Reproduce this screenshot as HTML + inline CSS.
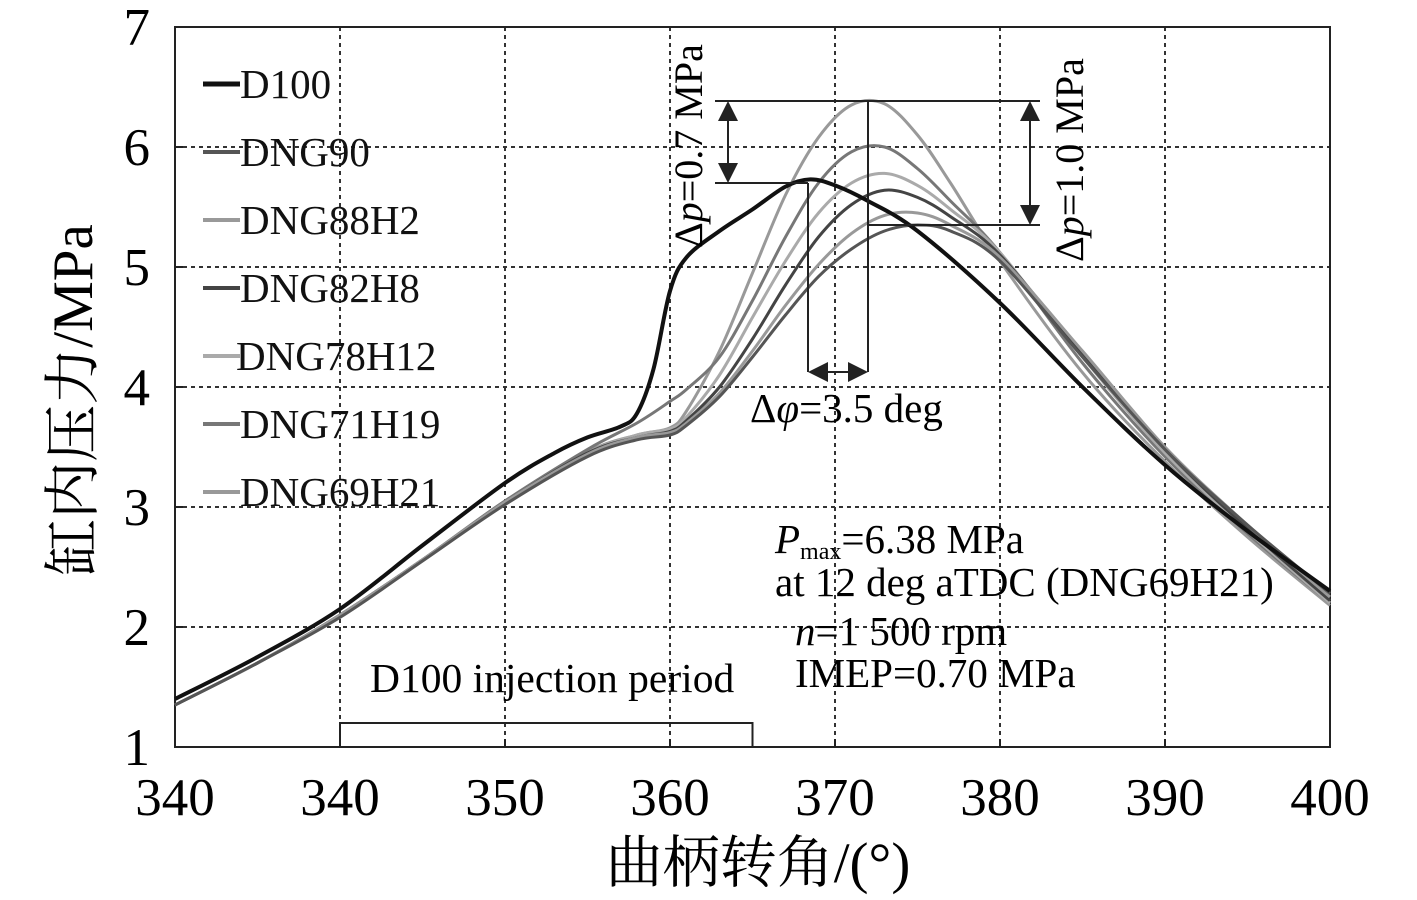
<!DOCTYPE html>
<html><head><meta charset="utf-8"><style>
html,body{margin:0;padding:0;background:#fff}
svg{display:block;font-family:"Liberation Serif","Noto Serif CJK SC",serif}
</style></head><body>
<svg id="c" width="1417" height="900" viewBox="0 0 1417 900"></svg>
<script>
const xTickValues=[330,340,350,360,370,380,390,400];
const xTickLabels=["340","340","350","360","370","380","390","400"];
const yTickValues=[1,2,3,4,5,6,7];
const seriesNames=["D100","DNG90","DNG88H2","DNG82H8","DNG78H12","DNG71H19","DNG69H21"];
const seriesColors=["#111","#555","#999","#444","#aaa","#777","#999"];
const seriesWidths=[4,3,3,3,3,3,3];
const anglesD100=[330,335,340,345,350,353,355,357,358,359,360,361,363,365,367,368.5,370,372,375,380,385,390,395,400];
const pressD100=[1.4,1.75,2.15,2.68,3.2,3.45,3.58,3.67,3.78,4.15,4.8,5.08,5.3,5.48,5.67,5.73,5.68,5.55,5.3,4.7,4.0,3.35,2.8,2.3];
const anglesGas=[330,335,340,345,350,355,358,360,361,363,365,367,369,371,373,375,377,380,385,390,395,400];
const pressDNG90=[1.35,1.7,2.08,2.55,3.02,3.42,3.56,3.6,3.68,3.92,4.25,4.6,4.92,5.15,5.3,5.35,5.3,5.05,4.25,3.48,2.85,2.28];
const pressDNG88H2=[1.35,1.7,2.1,2.56,3.04,3.44,3.58,3.62,3.7,3.95,4.3,4.68,5.02,5.28,5.43,5.45,5.35,5.08,4.3,3.5,2.85,2.25];
const pressDNG82H8=[1.35,1.7,2.1,2.56,3.04,3.45,3.58,3.63,3.72,4.0,4.4,4.85,5.25,5.52,5.64,5.58,5.42,5.1,4.28,3.48,2.82,2.22];
const pressDNG78H12=[1.35,1.7,2.1,2.56,3.04,3.45,3.6,3.65,3.75,4.1,4.58,5.05,5.45,5.7,5.78,5.68,5.48,5.12,4.25,3.45,2.8,2.2];
const pressDNG71H19=[1.35,1.7,2.1,2.56,3.05,3.48,3.7,3.88,3.98,4.25,4.72,5.25,5.7,5.96,6.0,5.82,5.55,5.12,4.2,3.42,2.78,2.2];
const pressDNG69H21=[1.35,1.7,2.1,2.56,3.05,3.46,3.6,3.66,3.8,4.3,4.95,5.6,6.08,6.35,6.36,6.1,5.7,5.05,4.12,3.38,2.75,2.18];
const seriesAngles=[anglesD100,anglesGas,anglesGas,anglesGas,anglesGas,anglesGas,anglesGas];
const seriesValues=[pressD100,pressDNG90,pressDNG88H2,pressDNG82H8,pressDNG78H12,pressDNG71H19,pressDNG69H21];
const injectionStart=340, injectionEnd=365, injectionLevel=1.2;

const L=175,R=1330,T=27,B=747;
const X=v=>L+(v-330)/(70)*(R-L);
const Y=v=>B-(v-1)/6*(B-T);
const svg=document.getElementById('c');
const NS="http://www.w3.org/2000/svg";
function mk(tag,attrs,parent){const e=document.createElementNS(NS,tag);for(const k in attrs)e.setAttribute(k,attrs[k]);(parent||svg).appendChild(e);return e;}
function txt(s,attrs,name){const e=mk('text',attrs);e.textContent=s;return e;}

xTickValues.forEach((v,i)=>{if(i>0&&i<xTickValues.length-1){const g=mk('line',{x1:X(v),x2:X(v),y1:T,y2:B,stroke:'#333','stroke-width':2,'stroke-dasharray':'4,4'});}});
yTickValues.forEach((v,i)=>{if(i>0&&i<yTickValues.length-1){const g=mk('line',{x1:L,x2:R,y1:Y(v),y2:Y(v),stroke:'#333','stroke-width':2,'stroke-dasharray':'4,4'});}});
const frame=mk('rect',{x:L,y:T,width:R-L,height:B-T,fill:'none',stroke:'#222','stroke-width':2});

xTickValues.forEach((v,i)=>{const t=mk('line',{x1:X(v),x2:X(v),y1:B,y2:B-8,stroke:'#222','stroke-width':2});
 txt(xTickLabels[i],{x:X(v),y:815,'font-size':53,'text-anchor':'middle'},'x-tick-label');});
yTickValues.forEach(v=>{const t=mk('line',{x1:L,x2:L+8,y1:Y(v),y2:Y(v),stroke:'#222','stroke-width':2});
 txt(String(v),{x:150,y:Y(v)+18,'font-size':53,'text-anchor':'end'},'y-tick-label');});

const inj=mk('polyline',{points:`${X(injectionStart)},${B} ${X(injectionStart)},${Y(injectionLevel)} ${X(injectionEnd)},${Y(injectionLevel)} ${X(injectionEnd)},${B}`,fill:'none',stroke:'#222','stroke-width':2});

txt('D100 injection period',{x:370,y:692,'font-size':41.5},'injection-label');

function path(xs,ys){const p=xs.map((a,i)=>[X(a),Y(ys[i])]);let d=`M${p[0][0]},${p[0][1]}`;
 for(let i=0;i<p.length-1;i++){const p0=p[Math.max(0,i-1)],p1=p[i],p2=p[i+1],p3=p[Math.min(p.length-1,i+2)];
 const c1=[p1[0]+(p2[0]-p0[0])/6,p1[1]+(p2[1]-p0[1])/6],c2=[p2[0]-(p3[0]-p1[0])/6,p2[1]-(p3[1]-p1[1])/6];
 d+=` C${c1[0]},${c1[1]} ${c2[0]},${c2[1]} ${p2[0]},${p2[1]}`;}return d;}
for(let s=seriesNames.length-1;s>=0;s--){const e=mk('path',{d:path(seriesAngles[s],seriesValues[s]),fill:'none',stroke:seriesColors[s],'stroke-width':seriesWidths[s]});
 }

seriesNames.forEach((n,i)=>{const y=84+i*68;const l=mk('line',{x1:203,x2:240,y1:y,y2:y,stroke:seriesColors[i],'stroke-width':seriesWidths[i]+1});
 
 txt(n,{x:i==4?236:240,y:y+14,'font-size':41,fill:'#111'},'legend-entry');});

const ann=[[715,101,1040,101],[715,183,808,183],[868,225,1040,225],[808,183,808,372],[868,101,868,372]];
ann.forEach(a=>{const e=mk('line',{x1:a[0],y1:a[1],x2:a[2],y2:a[3],stroke:'#222','stroke-width':2});});
const defs=mk('defs',{});const m=mk('marker',{id:'ar',markerWidth:10,markerHeight:10,refX:9,refY:5,orient:'auto-start-reverse'},defs);mk('path',{d:'M0,0 L10,5 L0,10 z',fill:'#222'},m);
[[728,103,728,181],[1030,103,1030,223],[810,372,866,372]].forEach(a=>{const e=mk('line',{x1:a[0],y1:a[1],x2:a[2],y2:a[3],stroke:'#222','stroke-width':2,'marker-start':'url(#ar)','marker-end':'url(#ar)'});});
const t1=txt('',{transform:'translate(702,248) rotate(-90)','font-size':40},'delta-p-07-label');t1.innerHTML='Δ<tspan font-style="italic">p</tspan>=0.7 MPa';
const t2=txt('',{transform:'translate(1083,262) rotate(-90)','font-size':40},'delta-p-10-label');t2.innerHTML='Δ<tspan font-style="italic">p</tspan>=1.0 MPa';
const t3=txt('',{x:750,y:422,'font-size':41},'delta-phi-label');t3.innerHTML='Δ<tspan font-style="italic">φ</tspan>=3.5 deg';
const t4=txt('',{x:775,y:553,'font-size':41},'pmax-label');t4.innerHTML='<tspan font-style="italic">P</tspan><tspan font-size="24" dy="6">max</tspan><tspan dy="-6">=6.38 MPa</tspan>';
txt('at 12 deg aTDC (DNG69H21)',{x:775,y:596,'font-size':41},'pmax-condition-label');
const t5=txt('',{x:795,y:645,'font-size':41},'speed-label');t5.innerHTML='<tspan font-style="italic">n</tspan>=1 500 rpm';
txt('IMEP=0.70 MPa',{x:795,y:687,'font-size':41},'imep-label');

txt('曲柄转角/(°)',{x:758,y:882,'font-size':57,'text-anchor':'middle'},'x-axis-title');
txt('缸内压力/MPa',{transform:'translate(92,400) rotate(-90)','font-size':57,'text-anchor':'middle'},'y-axis-title');
</script>
</body></html>
